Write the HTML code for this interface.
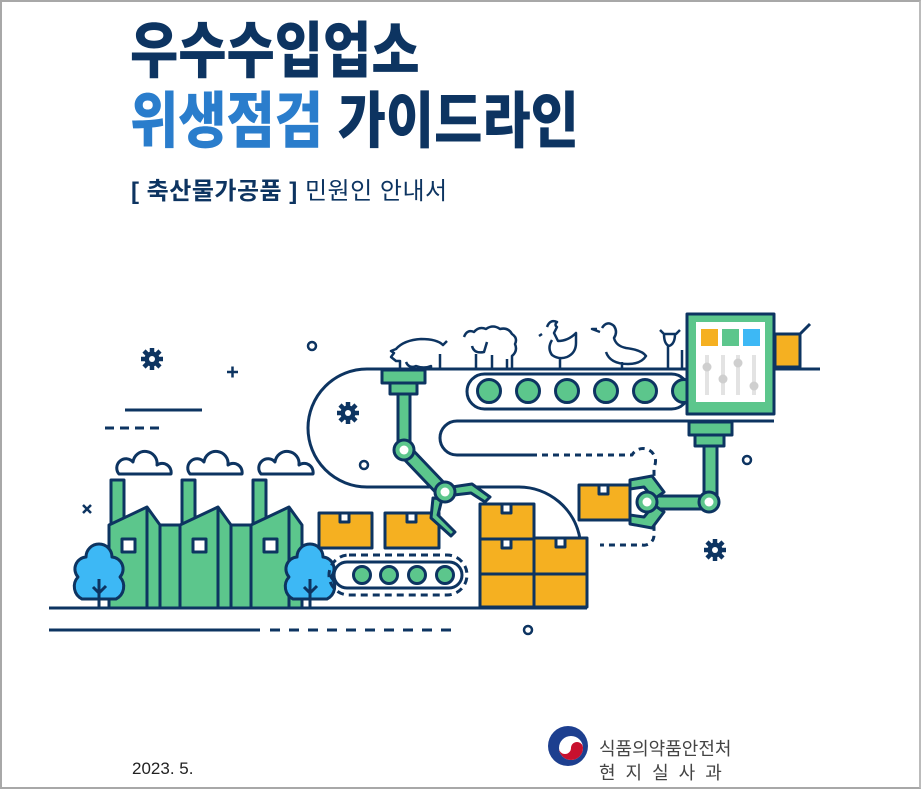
<!DOCTYPE html>
<html><head><meta charset="utf-8"><style>
html,body{margin:0;padding:0;background:#fff}
#c{position:relative;width:921px;height:789px;overflow:hidden;box-sizing:border-box;border:2px solid #a8a8a8;border-right-color:#bbb}
.t{position:absolute;font-family:"Liberation Sans","Noto Sans CJK KR",sans-serif;white-space:nowrap}
.big{font-weight:900;font-size:61px;line-height:61px;transform:scaleX(0.86);transform-origin:0 0;color:#0d3461;letter-spacing:0}
svg{position:absolute;left:0;top:0}
</style></head><body><div id="c">
<div class="t big" style="left:128px;top:19px">우수수입업소</div>
<div class="t big" style="left:128px;top:89px"><span style="color:#2a7dcc">위생점검</span> 가이드라인</div>
<div class="t" style="left:129px;top:169px;font-size:24px;letter-spacing:0.5px;color:#0d3461"><span style="font-weight:700">[ 축산물가공품 ]</span> 민원인 안내서</div>
<div class="t" style="left:130px;top:757px;font-size:17px;color:#222">2023. 5.</div>
<div class="t" style="left:597px;top:733px;font-size:18px;color:#444">식품의약품안전처</div>
<div class="t" style="left:597px;top:757px;font-size:18px;color:#444;letter-spacing:10px">현지실사과</div>

<svg width="921" height="789" viewBox="0 0 921 789" fill="none" stroke="#0d3461" stroke-width="3" stroke-linejoin="round">
<g stroke="none">
<circle cx="566" cy="744" r="20" fill="#1d3f8f"/>
<circle cx="569" cy="746" r="12" fill="#fff"/>
<path d="M557 746 A12 12 0 0 0 581 746 A6 6 0 0 0 569 746 A6 6 0 0 1 557 746Z" fill="#c8102e"/>
</g>
<line x1="123" y1="408" x2="200" y2="408"/>
<line x1="103" y1="426" x2="158" y2="426" stroke-dasharray="9 6"/>
<path d="M225 370h11M230.5 364.5v11" stroke-width="2.5"/>
<path d="M81 503l8 8M89 503l-8 8" stroke-width="2.5"/>
<line x1="47" y1="628" x2="258" y2="628"/>
<line x1="268" y1="628" x2="455" y2="628" stroke-dasharray="10 9"/>
<circle cx="310" cy="344" r="4" stroke-width="2.5"/>
<circle cx="362" cy="463" r="4" stroke-width="2.5"/>
<circle cx="745" cy="458" r="4" stroke-width="2.5"/>
<circle cx="526" cy="628" r="4" stroke-width="2.5"/>
<g transform="translate(150,357)"><circle r="7.5" fill="#0d3461" stroke="none"/><path d="M0 -11V11M-11 0H11M-8 -8L8 8M8 -8L-8 8" stroke-width="4.5"/><circle r="3" fill="#fff" stroke="none"/></g>
<g transform="translate(346,411)"><circle r="7.5" fill="#0d3461" stroke="none"/><path d="M0 -11V11M-11 0H11M-8 -8L8 8M8 -8L-8 8" stroke-width="4.5"/><circle r="3" fill="#fff" stroke="none"/></g>
<g transform="translate(713,548)"><circle r="7.5" fill="#0d3461" stroke="none"/><path d="M0 -11V11M-11 0H11M-8 -8L8 8M8 -8L-8 8" stroke-width="4.5"/><circle r="3" fill="#fff" stroke="none"/></g>
<path d="M117 472h52a9 9 0 0 0-14-9a12 12 0 0 0-24-3a9 9 0 0 0-14 12z"/>
<path d="M188 472h52a9 9 0 0 0-14-9a12 12 0 0 0-24-3a9 9 0 0 0-14 12z"/>
<path d="M259 472h52a9 9 0 0 0-14-9a12 12 0 0 0-24-3a9 9 0 0 0-14 12z"/>
<g fill="#5cc68c">
<path d="M109 523V478h13v42zM180 523V478h13v42zM251 523V478h13v42z"/>
<path d="M107 606V523L145 505L158 523H178L216 505L229 523H249L287 505L300 523V606Z"/>
</g>
<path d="M145 505V606M158 523V606M178 523V606M216 505V606M229 523V606M249 523V606M287 505V606"/>
<g fill="#fff"><rect x="120" y="537" width="13" height="13"/><rect x="191" y="537" width="13" height="13"/><rect x="262" y="537" width="13" height="13"/></g>
<g fill="#3db8f5">
<path d="M80 597a14 14 0 0 1-4-22a12 12 0 0 1 8-20a13 13 0 0 1 26 0a12 12 0 0 1 8 20a14 14 0 0 1-4 22z"/>
<path d="M291 597a14 14 0 0 1-4-22a12 12 0 0 1 8-20a13 13 0 0 1 26 0a12 12 0 0 1 8 20a14 14 0 0 1-4 22z"/>
</g>
<path d="M97 606V577M97 591l-6-6M97 591l7-7M308 606V577M308 591l-6-6M308 591l7-7"/>
<line x1="47" y1="606" x2="585" y2="606"/>
<path d="M818 367H365A59 59 0 0 0 365 485H517A62 62 0 0 1 578 537"/>
<rect x="465" y="372" width="222" height="35" rx="17.5"/>
<g fill="#5cc68c"><circle cx="487" cy="389" r="11.5"/><circle cx="526" cy="389" r="11.5"/><circle cx="565" cy="389" r="11.5"/><circle cx="604" cy="389" r="11.5"/><circle cx="643" cy="389" r="11.5"/><circle cx="682" cy="389" r="11.5"/></g>
<path d="M772 419H455A17 17 0 0 0 455 453H535"/>
<path d="M540 453H630A10 10 0 0 1 652 465V533A10 10 0 0 1 640 543H598" stroke-dasharray="6 5"/>
<rect x="332" y="560" width="128" height="26" rx="13"/>
<rect x="327" y="553" width="138" height="40" rx="20" stroke-dasharray="7 5"/>
<g fill="#5cc68c"><circle cx="360" cy="573" r="8.5"/><circle cx="387" cy="573" r="8.5"/><circle cx="415" cy="573" r="8.5"/><circle cx="443" cy="573" r="8.5"/></g>
<g fill="#f5b021">
<rect x="317" y="511" width="53" height="35"/><rect x="383" y="511" width="54" height="35"/>
<rect x="478" y="502" width="54" height="35"/><rect x="478" y="537" width="54" height="35"/><rect x="478" y="572" width="54" height="33"/>
<rect x="532" y="536" width="53" height="36"/><rect x="532" y="572" width="53" height="33"/>
<rect x="577" y="483" width="51" height="35"/>
<rect x="773" y="332" width="25" height="33"/>
</g>
<g fill="#fff"><rect x="338" y="511" width="9" height="9"/><rect x="405" y="511" width="9" height="9"/><rect x="500" y="502" width="9" height="9"/><rect x="500" y="537" width="9" height="9"/><rect x="554" y="536" width="9" height="9"/><rect x="597" y="483" width="9" height="9"/></g>
<path d="M798 332L808 322"/>
<g stroke-width="2.5">
<path d="M398 367v-8h-4l-5-4l3-4l-3-2l5-2q8-9 25-10q16 0 22 6l4-4M404 360q3 7 10 4q8 3 15 0v3M438 367v-15"/>
<path d="M462 335q3-8 10-5q5-6 12-3q7-5 14 0q8-2 12 5q6 4 3 10q3 7-3 12v13M470 344q2 8 12 6l3-10M474 367v-15M490 367v-14M505 367v-10"/>
<path d="M545 325q3-8 10-5q-3 3 0 5l-3 6l4 8q10 0 18-8v10q0 10-9 14q-8 3-15-2q-5-7 0-15M558 367v-12M540 332l-3 2"/>
<path d="M600 326q5-8 12-2q4 6 0 12q2 8 12 10q16 2 20 8q-5 8-18 8q-18 0-22-12M595 327h-5l8 3M620 367v-7"/>
<path d="M658 328l4 4h12l4-4M662 332q0 10 5 12q6-2 6-12M666 344v23M680 348v19"/>
</g>
<rect x="685" y="312" width="87" height="100" fill="#5cc68c"/>
<rect x="694" y="320" width="69" height="80" fill="#fff" stroke="none"/>
<g stroke="none"><rect x="699" y="327" width="17" height="17" fill="#f5b021"/><rect x="720" y="327" width="17" height="17" fill="#5cc68c"/><rect x="741" y="327" width="17" height="17" fill="#3db8f5"/>
<g fill="#e3e3e3"><rect x="703" y="353" width="4" height="40"/><rect x="719" y="353" width="4" height="40"/><rect x="734" y="353" width="4" height="40"/><rect x="750" y="353" width="4" height="40"/></g>
<g fill="#cfcfcf"><circle cx="705" cy="365" r="4.5"/><circle cx="721" cy="377" r="4.5"/><circle cx="736" cy="361" r="4.5"/><circle cx="752" cy="384" r="4.5"/></g></g>
<g fill="#5cc68c">
<rect x="687" y="420" width="43" height="13"/><rect x="693" y="433" width="29" height="11"/>
<rect x="702" y="444" width="13" height="56"/>
<rect x="645" y="494" width="62" height="13"/>
<path d="M628 478l22 -4l12 16l-10 7l-10-12l-14 2zM628 522l22 4l12-16l-10-7l-10 12l-14-2z"/>
<circle cx="707" cy="500" r="10"/><circle cx="645" cy="500" r="10"/>
</g>
<circle cx="707" cy="500" r="4.5" fill="#fff" stroke="none"/><circle cx="645" cy="500" r="4.5" fill="#fff" stroke="none"/>
<g fill="#5cc68c">
<rect x="380" y="368" width="43" height="13"/><rect x="388" y="381" width="27" height="11"/>
<rect x="396" y="392" width="12" height="56"/>
<path d="M398 453l41 43l9-9l-41-43z"/>
<path d="M450 485l20-3l18 13l-5 5l-14-9l-17 2zM440 497l-4 16l17 17l-4 4l-20-18l2-20z"/>
<circle cx="402" cy="448" r="10"/><circle cx="443" cy="490" r="10"/>
</g>
<circle cx="402" cy="448" r="4.5" fill="#fff" stroke="none"/><circle cx="443" cy="490" r="4.5" fill="#fff" stroke="none"/>
</svg>
</div></body></html>
